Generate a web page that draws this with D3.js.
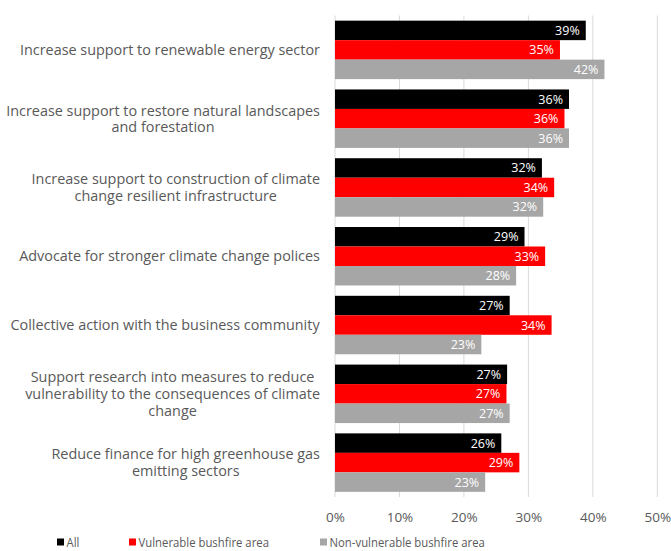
<!DOCTYPE html>
<html>
<head>
<meta charset="utf-8">
<script src="https://cdn.jsdelivr.net/npm/d3@7"></script>
<style>
  html, body { margin: 0; padding: 0; background: #fff; }
  svg text { font-family: "Open Sans", Lato, sans-serif; }
</style>
</head>
<body>
<svg id="chart" width="671" height="551"></svg>
<script>
// Survey responses: share of respondents supporting each climate action
const categories = [
  "Increase support to renewable energy sector",
  "Increase support to restore natural landscapes\nand forestation",
  "Increase support to construction of climate\nchange resilient infrastructure",
  "Advocate for stronger climate change polices",
  "Collective action with the business community",
  "Support research into measures to reduce\nvulnerability to the consequences of climate\nchange",
  "Reduce finance for high greenhouse gas\nemitting sectors"
];
const seriesNames = ["All", "Vulnerable bushfire area", "Non-vulnerable bushfire area"];
const allValues        = [0.389, 0.363, 0.321, 0.294, 0.271, 0.267, 0.258];
const vulnerableValues = [0.349, 0.356, 0.340, 0.326, 0.336, 0.266, 0.286];
const nonVulnValues    = [0.418, 0.363, 0.323, 0.281, 0.227, 0.271, 0.233];
const xTicks = [0, 0.1, 0.2, 0.3, 0.4, 0.5];
const colors = ["#000000", "#ff0000", "#a6a6a6"];

const series = [allValues, vulnerableValues, nonVulnValues];
const svg = d3.select("#chart");
const fmt = d3.format(".0%");

const x = d3.scaleLinear().domain([0, 0.5]).range([335, 657.3]);
const y = d3.scaleBand().domain(d3.range(categories.length))
  .range([15.5, 497]).paddingInner(0.15).paddingOuter(0.075);
const yInner = d3.scaleBand().domain(d3.range(series.length)).range([0, y.bandwidth()]);

// vertical gridlines
svg.append("g").selectAll("line").data(xTicks).join("line")
  .attr("x1", d => x(d)).attr("x2", d => x(d))
  .attr("y1", 15.5).attr("y2", 497)
  .attr("stroke", "#d9d9d9").attr("stroke-width", 1);

// x tick labels
const xAxis = d3.axisBottom(x).tickValues(xTicks).tickFormat(fmt).tickSize(0).tickPadding(0);
const ax = svg.append("g").attr("transform", "translate(0,512)").call(xAxis);
ax.select(".domain").remove();
ax.selectAll("text").attr("fill", "#595959").attr("font-size", 13.5)
  .attr("font-family", "'Open Sans', sans-serif");

// grouped bars with value labels
const groups = svg.append("g").selectAll("g").data(categories).join("g")
  .attr("transform", (d, i) => `translate(0,${y(i)})`);

groups.each(function (cat, i) {
  const g = d3.select(this);
  series.forEach((vals, s) => {
    const v = vals[i];
    g.append("rect")
      .attr("x", x(0)).attr("y", yInner(s))
      .attr("width", x(v) - x(0)).attr("height", yInner.bandwidth())
      .attr("fill", colors[s]);
    g.append("text")
      .attr("x", x(v) - 6).attr("y", yInner(s) + yInner.bandwidth() / 2)
      .attr("dy", "0.36em").attr("text-anchor", "end")
      .attr("fill", "#ffffff").attr("font-size", 12.5)
      .text(fmt(v));
  });
});

// category labels: lines centred on each other, block right-aligned to the axis
const labels = svg.append("g").selectAll("text").data(categories).join("text")
  .attr("text-anchor", "middle").attr("fill", "#595959").attr("font-size", 14.4);
labels.each(function (cat, i) {
  const lines = cat.split("\n");
  const t = d3.select(this);
  const lh = 16.7;
  const cy = y(i) + y.bandwidth() / 2 - (lines.length - 1) * lh / 2;
  lines.forEach((ln, k) => {
    t.append("tspan").attr("x", 0).attr("y", cy + k * lh).attr("dy", "0.36em").text(ln);
  });
  const w = this.getBBox().width;
  t.selectAll("tspan").attr("x", 320 - w / 2);
});

// legend (condensed type)
const legX = [57, 129, 320];
const leg = svg.append("g").selectAll("g").data(seriesNames).join("g")
  .attr("transform", (d, i) => `translate(${legX[i]},542)`);
leg.append("rect").attr("x", 0).attr("y", -3.5).attr("width", 7).attr("height", 7)
  .attr("fill", (d, i) => colors[i]);
leg.append("text").attr("x", 9.5).attr("dy", "0.36em").attr("fill", "#595959")
  .attr("font-size", 13.5).text(d => d)
  .each(function () {
    const w = this.getComputedTextLength();
    d3.select(this).attr("textLength", w * 0.84).attr("lengthAdjust", "spacingAndGlyphs");
  });
</script>
</body>
</html>
